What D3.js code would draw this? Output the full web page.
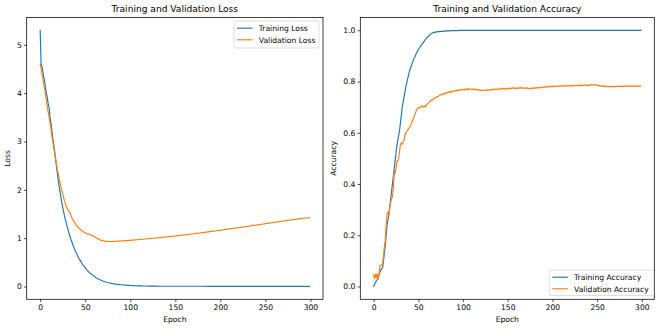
<!DOCTYPE html>
<html><head><meta charset="utf-8">
<script src="https://cdn.jsdelivr.net/npm/d3@7"></script>
<style>
html,body{margin:0;padding:0;background:#fff;}
svg{display:block;font-family:"DejaVu Sans",sans-serif;}
</style></head>
<body><svg id="chart" width="662" height="329"></svg>
<script>
const trainLoss = [
5.30,4.62,4.55,4.44,4.33,4.24,4.10,3.99,3.90,3.76,
3.70,3.50,3.38,3.22,3.08,2.94,2.81,2.64,2.50,2.35,
2.21,2.08,1.96,1.85,1.74,1.64,1.55,1.46,1.38,1.31,
1.24,1.17,1.10,1.04,0.98,0.93,0.88,0.83,0.78,0.74,
0.70,0.66,0.62,0.58,0.55,0.52,0.49,0.46,0.43,0.41,
0.39,0.36,0.34,0.32,0.30,0.28,0.27,0.25,0.24,0.22,
0.21,0.20,0.18,0.17,0.16,0.15,0.145,0.135,0.127,0.12,
0.11,0.104,0.098,0.092,0.087,0.082,0.077,0.073,0.069,0.065,
0.061,0.058,0.055,0.052,0.049,0.046,0.044,0.041,0.039,0.037,
0.035,0.033,0.031,0.030,0.028,0.027,0.025,0.024,0.023,0.022,
0.021,0.020,0.019,0.018,0.017,0.016,0.016,0.015,0.014,0.014,
0.013,0.013,0.012,0.012,0.011,0.011,0.010,0.010,0.010,0.009,
0.009,0.009,0.008,0.008,0.008,0.008,0.007,0.007,0.007,0.007,
0.007,0.006,0.006,0.006,0.006,0.006,0.006,0.005,0.005,0.005,
0.005,0.005,0.005,0.005,0.005,0.005,0.005,0.005,0.005,0.005,
0.005,0.005,0.004,0.004,0.004,0.004,0.004,0.004,0.004,0.004,
0.004,0.004,0.004,0.004,0.004,0.004,0.004,0.004,0.004,0.004,
0.004,0.004,0.004,0.004,0.004,0.004,0.004,0.004,0.004,0.004,
0.004,0.004,0.004,0.004,0.004,0.003,0.003,0.003,0.003,0.003,
0.003,0.003,0.003,0.003,0.003,0.003,0.003,0.003,0.003,0.003,
0.003,0.003,0.003,0.003,0.003,0.003,0.003,0.003,0.003,0.003,
0.003,0.003,0.003,0.003,0.003,0.003,0.003,0.003,0.003,0.003,
0.003,0.003,0.003,0.003,0.003,0.003,0.003,0.003,0.003,0.003,
0.003,0.003,0.003,0.003,0.003,0.003,0.003,0.003,0.003,0.003,
0.003,0.003,0.003,0.003,0.003,0.003,0.003,0.003,0.003,0.003,
0.002,0.002,0.002,0.002,0.002,0.002,0.002,0.002,0.002,0.002,
0.002,0.002,0.002,0.002,0.002,0.002,0.002,0.002,0.002,0.002,
0.002,0.002,0.002,0.002,0.002,0.002,0.002,0.002,0.002,0.002,
0.002,0.002,0.002,0.002,0.002,0.002,0.002,0.002,0.002,0.002,
0.002,0.002,0.002,0.002,0.002,0.002,0.002,0.002,0.002,0.002
];
const valLoss = [
4.60,4.52,4.40,4.30,4.18,4.08,3.95,3.84,3.70,3.60,
3.48,3.38,3.26,3.12,3.00,2.88,2.78,2.66,2.55,2.42,
2.34,2.24,2.15,2.07,1.99,1.91,1.84,1.77,1.71,1.66,
1.62,1.58,1.56,1.53,1.48,1.43,1.39,1.36,1.33,1.30,
1.27,1.25,1.23,1.21,1.19,1.17,1.16,1.14,1.13,1.12,
1.11,1.10,1.09,1.08,1.08,1.08,1.07,1.06,1.05,1.04,
1.03,1.02,1.01,1.00,0.99,0.98,0.97,0.96,0.955,0.95,
0.945,0.94,0.94,0.935,0.935,0.93,0.93,0.93,0.93,0.93,
0.93,0.935,0.93,0.935,0.935,0.94,0.935,0.94,0.94,0.94,
0.94,0.945,0.945,0.945,0.95,0.95,0.95,0.95,0.955,0.955,
0.955,0.957,0.958,0.96,0.962,0.963,0.965,0.967,0.968,0.97,
0.972,0.973,0.975,0.977,0.978,0.98,0.982,0.983,0.985,0.987,
0.988,0.99,0.992,0.994,0.995,0.997,0.999,1.001,1.002,1.004,
1.006,1.008,1.01,1.011,1.013,1.015,1.017,1.019,1.021,1.023,
1.025,1.027,1.029,1.031,1.033,1.035,1.037,1.039,1.041,1.043,
1.045,1.047,1.049,1.051,1.053,1.056,1.058,1.06,1.062,1.064,
1.067,1.069,1.071,1.073,1.076,1.078,1.08,1.083,1.085,1.087,
1.09,1.092,1.094,1.097,1.099,1.102,1.104,1.106,1.109,1.111,
1.114,1.116,1.119,1.121,1.124,1.126,1.129,1.131,1.134,1.136,
1.139,1.141,1.144,1.146,1.149,1.151,1.154,1.157,1.159,1.162,
1.164,1.167,1.17,1.172,1.175,1.177,1.18,1.183,1.185,1.188,
1.191,1.193,1.196,1.199,1.201,1.204,1.207,1.209,1.212,1.215,
1.217,1.22,1.223,1.225,1.228,1.231,1.233,1.236,1.239,1.242,
1.244,1.247,1.25,1.252,1.255,1.258,1.261,1.263,1.266,1.269,
1.272,1.274,1.277,1.28,1.283,1.285,1.288,1.291,1.294,1.296,
1.299,1.302,1.305,1.307,1.31,1.313,1.316,1.318,1.321,1.324,
1.327,1.329,1.332,1.335,1.338,1.34,1.343,1.346,1.349,1.351,
1.354,1.357,1.36,1.362,1.365,1.368,1.371,1.373,1.376,1.379,
1.381,1.384,1.387,1.389,1.392,1.395,1.397,1.4,1.403,1.405,
1.408,1.41,1.412,1.414,1.416,1.417,1.418,1.419,1.42,1.421
];
const trainAcc = [
0.000,0.008,0.015,0.022,0.028,0.035,0.045,0.055,0.065,0.070,
0.072,0.10,0.13,0.16,0.20,0.24,0.26,0.28,0.31,0.34,
0.37,0.40,0.43,0.46,0.49,0.52,0.55,0.57,0.59,0.61,
0.64,0.67,0.70,0.72,0.74,0.76,0.78,0.795,0.81,0.825,
0.84,0.85,0.86,0.87,0.88,0.89,0.895,0.905,0.91,0.92,
0.925,0.93,0.935,0.94,0.945,0.95,0.955,0.96,0.965,0.97,
0.973,0.976,0.979,0.982,0.985,0.988,0.99,0.991,0.992,0.993,
0.994,0.994,0.995,0.995,0.995,0.996,0.996,0.996,0.997,0.997,
0.997,0.997,0.998,0.998,0.998,0.998,0.998,0.999,0.999,0.999,
0.999,0.999,0.999,0.999,0.999,1,1,1,1,1,
1,1,1,1,1,1,1,1,1,1, 1,1,1,1,1,1,1,1,1,1,
1,1,1,1,1,1,1,1,1,1, 1,1,1,1,1,1,1,1,1,1,
1,1,1,1,1,1,1,1,1,1, 1,1,1,1,1,1,1,1,1,1,
1,1,1,1,1,1,1,1,1,1, 1,1,1,1,1,1,1,1,1,1,
1,1,1,1,1,1,1,1,1,1, 1,1,1,1,1,1,1,1,1,1,
1,1,1,1,1,1,1,1,1,1, 1,1,1,1,1,1,1,1,1,1,
1,1,1,1,1,1,1,1,1,1, 1,1,1,1,1,1,1,1,1,1,
1,1,1,1,1,1,1,1,1,1, 1,1,1,1,1,1,1,1,1,1,
1,1,1,1,1,1,1,1,1,1, 1,1,1,1,1,1,1,1,1,1,
1,1,1,1,1,1,1,1,1,1, 1,1,1,1,1,1,1,1,1,1
];
const valAcc = [
0.044,0.030,0.048,0.035,0.050,0.028,0.045,0.083,0.083,0.085,
0.083,0.12,0.155,0.18,0.24,0.285,0.29,0.28,0.31,0.33,
0.34,0.35,0.38,0.45,0.44,0.46,0.49,0.49,0.50,0.53,
0.555,0.56,0.555,0.565,0.57,0.59,0.60,0.605,0.61,0.617,
0.62,0.625,0.635,0.645,0.65,0.66,0.67,0.68,0.69,0.695,
0.695,0.70,0.698,0.702,0.705,0.70,0.703,0.706,0.70,0.708,
0.712,0.715,0.72,0.722,0.728,0.726,0.73,0.733,0.736,0.735,
0.738,0.742,0.74,0.744,0.748,0.747,0.75,0.752,0.749,0.753,
0.755,0.754,0.758,0.756,0.759,0.761,0.758,0.762,0.76,0.763,
0.764,0.762,0.766,0.763,0.767,0.765,0.768,0.766,0.769,0.767,
0.768,0.770,0.767,0.771,0.768,0.772,0.769,0.771,0.768,0.770,
0.772,0.769,0.771,0.768,0.770,0.767,0.769,0.766,0.768,0.765,
0.767,0.764,0.766,0.765,0.767,0.764,0.766,0.768,0.765,0.767,
0.769,0.766,0.768,0.770,0.767,0.769,0.771,0.768,0.770,0.772,
0.769,0.771,0.773,0.770,0.772,0.774,0.771,0.773,0.770,0.772,
0.774,0.771,0.773,0.775,0.772,0.774,0.776,0.773,0.775,0.772,
0.774,0.776,0.773,0.775,0.777,0.774,0.776,0.773,0.775,0.774,
0.776,0.773,0.775,0.772,0.774,0.773,0.775,0.772,0.774,0.776,
0.773,0.775,0.777,0.774,0.776,0.778,0.775,0.777,0.779,0.776,
0.778,0.780,0.777,0.779,0.781,0.778,0.780,0.782,0.779,0.781,
0.780,0.782,0.780,0.781,0.783,0.781,0.782,0.784,0.781,0.783,
0.782,0.784,0.782,0.783,0.785,0.782,0.784,0.783,0.785,0.783,
0.784,0.782,0.784,0.785,0.783,0.785,0.784,0.786,0.784,0.785,
0.783,0.785,0.786,0.784,0.786,0.785,0.787,0.785,0.786,0.784,
0.786,0.785,0.787,0.786,0.788,0.786,0.787,0.789,0.787,0.788,
0.786,0.784,0.785,0.783,0.784,0.782,0.783,0.781,0.782,0.781,
0.782,0.780,0.781,0.780,0.781,0.780,0.781,0.780,0.781,0.780,
0.781,0.780,0.781,0.782,0.781,0.780,0.781,0.782,0.781,0.780,
0.781,0.782,0.781,0.782,0.781,0.782,0.783,0.782,0.781,0.782,
0.782,0.783,0.782,0.781,0.782,0.783,0.782,0.783,0.782,0.783
];
const epochTicks = [0, 50, 100, 150, 200, 250, 300];
const lossTicks = [0, 1, 2, 3, 4, 5];
const accTicks = [0.0, 0.2, 0.4, 0.6, 0.8, 1.0];
const titles = ["Training and Validation Loss", "Training and Validation Accuracy"];
const legendLoss = ["Training Loss", "Validation Loss"];
const legendAcc = ["Training Accuracy", "Validation Accuracy"];
const colors = ["#1f77b4", "#ff7f0e"];

const svg = d3.select("#chart");
const FS = 7.6;

function panel(opts) {
  const {left, right, top, bottom, series, yDomain, yTicks, yFmt, title, ylabel, legend, legendPos} = opts;
  const x = d3.scaleLinear().domain([-14.95, 313.95]).range([left, right]);
  const y = d3.scaleLinear().domain(yDomain).range([bottom, top]);
  const g = svg.append("g");

  const line = d3.line().x((d, i) => x(i)).y(d => y(d));
  series.forEach((s, k) => {
    g.append("path").datum(s).attr("d", line)
      .attr("fill", "none").attr("stroke", colors[k]).attr("stroke-width", 1.15)
      .attr("stroke-linejoin", "round").attr("stroke-linecap", "square");
  });

  const xAxis = d3.axisBottom(x).tickValues(epochTicks).tickSize(2.7).tickPadding(2.2).tickFormat(d3.format("d"));
  const gx = g.append("g").attr("transform", `translate(0,${bottom})`).call(xAxis);
  const yAxis = d3.axisLeft(y).tickValues(yTicks).tickSize(2.7).tickPadding(2.2).tickFormat(yFmt);
  const gy = g.append("g").attr("transform", `translate(${left},0)`).call(yAxis);
  [gx, gy].forEach(a => {
    a.select(".domain").remove();
    a.selectAll("text").attr("font-family", "DejaVu Sans").attr("font-size", FS).attr("fill", "#000");
    a.selectAll("line").attr("stroke", "#000").attr("stroke-width", 0.7);
  });

  g.append("rect").attr("x", left).attr("y", top).attr("width", right - left).attr("height", bottom - top)
    .attr("fill", "none").attr("stroke", "#000").attr("stroke-width", 0.75);

  g.append("text").attr("x", (left + right) / 2).attr("y", top - 5.5).attr("text-anchor", "middle")
    .attr("font-size", 9.1).attr("fill", "#000").text(title);
  g.append("text").attr("x", (left + right) / 2).attr("y", bottom + 22.3).attr("text-anchor", "middle")
    .attr("font-size", FS).attr("fill", "#000").text("Epoch");
  g.append("text").attr("transform", `translate(${opts.ylabelX},${(top + bottom) / 2}) rotate(-90)`)
    .attr("text-anchor", "middle").attr("font-size", FS).attr("fill", "#000").text(ylabel);

  const L = legendPos;
  const lg = g.append("g");
  lg.append("rect").attr("x", L.x).attr("y", L.y).attr("width", L.w).attr("height", L.h)
    .attr("rx", 1.5).attr("fill", "#fff").attr("fill-opacity", 0.8).attr("stroke", "#d0d0d0").attr("stroke-width", 0.7);
  legend.forEach((name, k) => {
    const cy = L.y + 7.2 + k * 11.6;
    lg.append("line").attr("x1", L.x + 3).attr("x2", L.x + 18.5).attr("y1", cy).attr("y2", cy)
      .attr("stroke", colors[k]).attr("stroke-width", 1.15);
    lg.append("text").attr("x", L.x + 24.8).attr("y", cy + 2.7).attr("font-size", FS).attr("fill", "#000").text(name);
  });
}

panel({left: 26.7, right: 323, top: 17.5, bottom: 299.3,
  series: [trainLoss, valLoss], yDomain: [-0.265, 5.565], yTicks: lossTicks, yFmt: d3.format("d"),
  title: titles[0], ylabel: "Loss", ylabelX: 9.5, legend: legendLoss,
  legendPos: {x: 234, y: 21, w: 85, h: 27}});

panel({left: 360.3, right: 654.3, top: 17.5, bottom: 299.3,
  series: [trainAcc, valAcc], yDomain: [-0.05, 1.05], yTicks: accTicks, yFmt: d3.format(".1f"),
  title: titles[1], ylabel: "Accuracy", ylabelX: 336, legend: legendAcc,
  legendPos: {x: 549.3, y: 270, w: 104.4, h: 25.5}});
</script>
</body></html>
